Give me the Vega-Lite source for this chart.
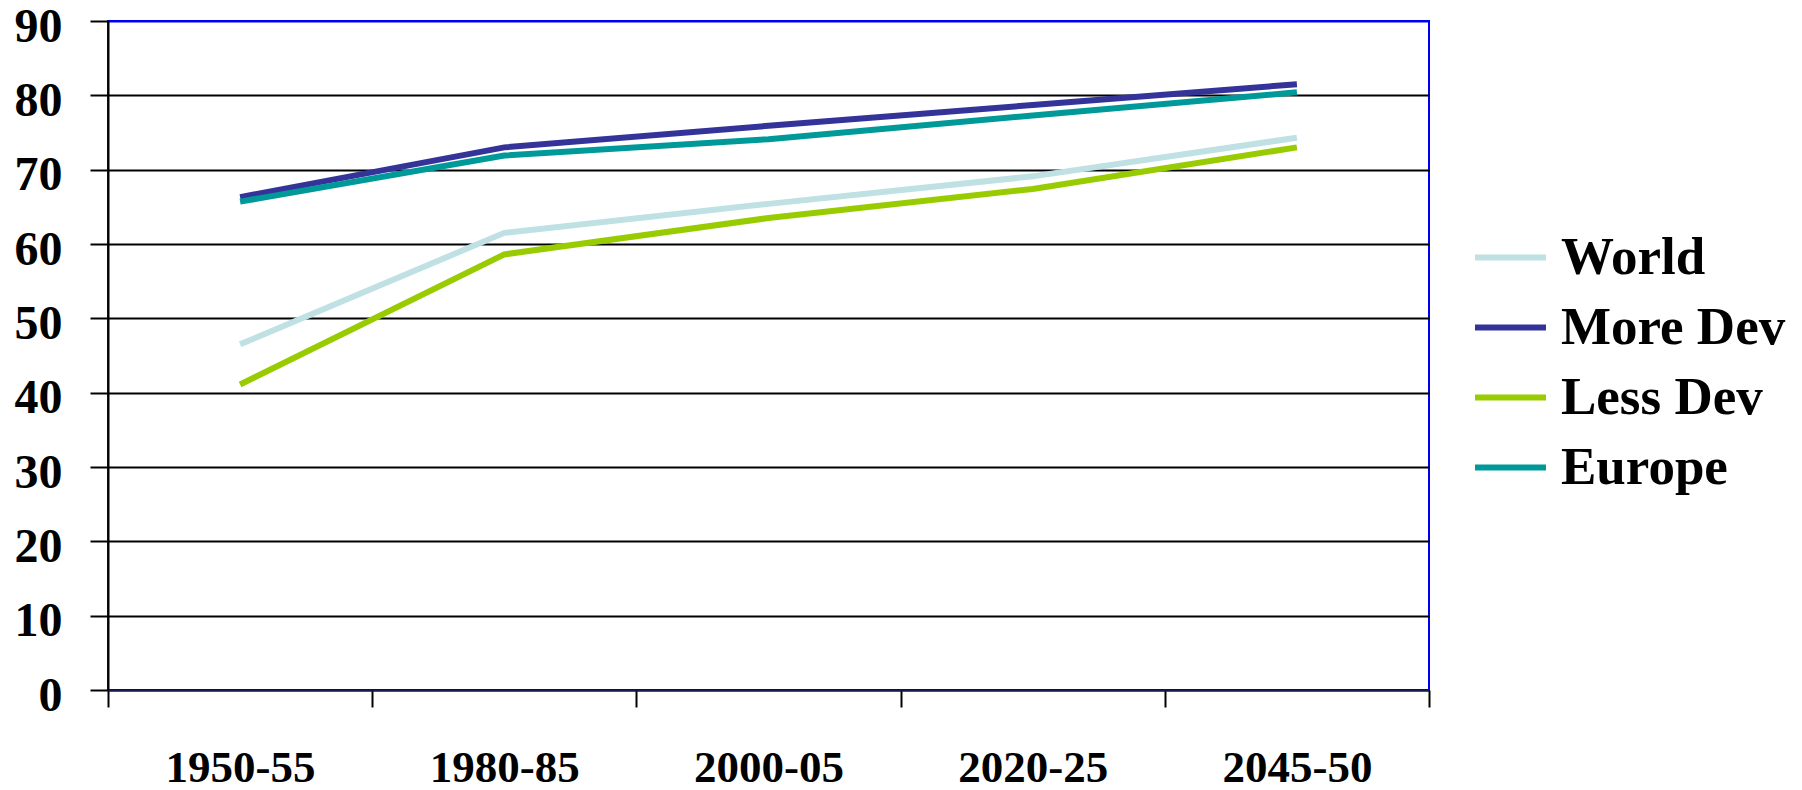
{
  "$schema": "https://vega.github.io/schema/vega-lite/v6.json",
  "width": 1321,
  "height": 669,
  "autosize": "none",
  "padding": {"left": 108, "top": 21, "right": 373, "bottom": 100},
  "background": "white",
  "config": {
    "view": {"stroke": "#0000ee", "strokeWidth": 2},
    "font": "Liberation Serif"
  },
  "data": {
    "values": [
      {"period": "1950-55", "region": "World", "value": 46.5},
      {"period": "1980-85", "region": "World", "value": 61.5},
      {"period": "2000-05", "region": "World", "value": 65.4},
      {"period": "2020-25", "region": "World", "value": 69.1},
      {"period": "2045-50", "region": "World", "value": 74.3},
      {"period": "1950-55", "region": "More Dev", "value": 66.3},
      {"period": "1980-85", "region": "More Dev", "value": 73.0},
      {"period": "2000-05", "region": "More Dev", "value": 75.9},
      {"period": "2020-25", "region": "More Dev", "value": 78.7},
      {"period": "2045-50", "region": "More Dev", "value": 81.5},
      {"period": "1950-55", "region": "Less Dev", "value": 41.1},
      {"period": "1980-85", "region": "Less Dev", "value": 58.6},
      {"period": "2000-05", "region": "Less Dev", "value": 63.5},
      {"period": "2020-25", "region": "Less Dev", "value": 67.4},
      {"period": "2045-50", "region": "Less Dev", "value": 73.0},
      {"period": "1950-55", "region": "Europe", "value": 65.7},
      {"period": "1980-85", "region": "Europe", "value": 71.9},
      {"period": "2000-05", "region": "Europe", "value": 74.1},
      {"period": "2020-25", "region": "Europe", "value": 77.3},
      {"period": "2045-50", "region": "Europe", "value": 80.4}
    ]
  },
  "mark": {"type": "line", "strokeWidth": 6, "strokeJoin": "miter"},
  "encoding": {
    "x": {
      "field": "period",
      "type": "ordinal",
      "sort": ["1950-55", "1980-85", "2000-05", "2020-25", "2045-50"],
      "scale": {"type": "band", "paddingInner": 0, "paddingOuter": 0},
      "axis": {
        "title": null,
        "labelAngle": 0,
        "labelFont": "Liberation Serif",
        "labelFontWeight": "bold",
        "labelFontSize": 45,
        "labelColor": "black",
        "labelPadding": 38,
        "tickBand": "extent",
        "tickSize": 17,
        "tickWidth": 2,
        "tickColor": "black",
        "domainColor": "#1a1a4d",
        "domainWidth": 2,
        "grid": false,
        "zindex": 1
      }
    },
    "y": {
      "field": "value",
      "type": "quantitative",
      "scale": {"domain": [0, 90], "nice": false, "zero": true},
      "axis": {
        "title": null,
        "values": [0, 10, 20, 30, 40, 50, 60, 70, 80, 90],
        "labelFont": "Liberation Serif",
        "labelFontWeight": "bold",
        "labelFontSize": 48,
        "labelColor": "black",
        "labelPadding": 28,
        "labelOffset": 6,
        "tickSize": 18,
        "tickWidth": 2,
        "tickColor": "black",
        "domainColor": "black",
        "domainWidth": 2,
        "grid": true,
        "gridColor": {"condition": {"test": "datum.value === 90", "value": "#0000ee"}, "value": "black"},
        "gridWidth": 2,
        "gridOpacity": 1,
        "zindex": 0
      }
    },
    "color": {
      "field": "region",
      "type": "nominal",
      "scale": {
        "domain": ["World", "More Dev", "Less Dev", "Europe"],
        "range": ["#bfe1e4", "#333399", "#99cc00", "#009999"]
      },
      "legend": {
        "title": null,
        "orient": "none",
        "legendX": 1364,
        "legendY": 198,
        "symbolType": "stroke",
        "symbolSize": 5041,
        "symbolStrokeWidth": 6,
        "labelFont": "Liberation Serif",
        "labelFontWeight": "bold",
        "labelFontSize": 53,
        "labelColor": "black",
        "labelOffset": 12,
        "rowPadding": 4,
        "labelLimit": 400
      }
    }
  }
}
